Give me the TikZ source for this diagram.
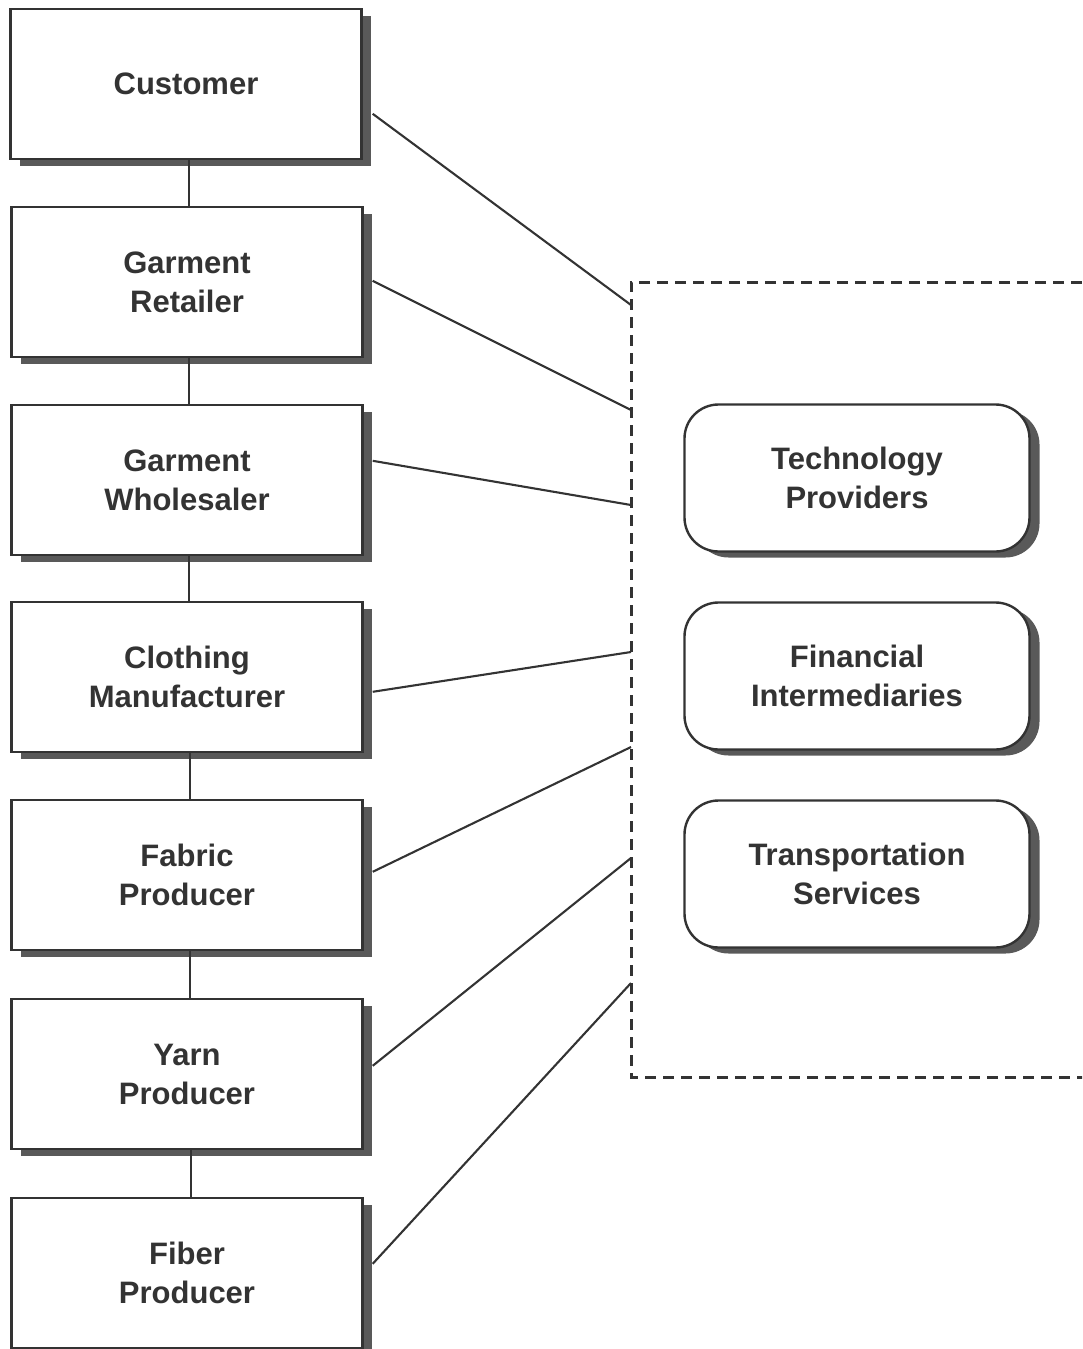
\documentclass[tikz,border=0pt]{standalone}
\usepackage{fontspec}
\setmainfont{Liberation Sans}
\usetikzlibrary{shadows}
\definecolor{ink}{HTML}{333333}
\begin{document}
\begin{tikzpicture}[x=1pt,y=-1pt,
  every node/.style={font=\fontsize{31}{39}\selectfont\bfseries, text=ink, align=center},
  chainbox/.style={draw=ink, line width=2.4pt, fill=white, minimum width=351pt, minimum height=150pt, inner sep=0pt,
    drop shadow={shadow xshift=9pt, shadow yshift=-7pt, fill=black!65, opacity=1}},
  servbox/.style={draw=ink, line width=2.4pt, fill=white, rounded corners=34pt, minimum width=345pt, minimum height=147pt, inner sep=0pt,
    drop shadow={shadow xshift=10pt, shadow yshift=-6pt, fill=black!65, opacity=1}},
  link/.style={draw=ink, line width=2.1pt},
  dashbox/.style={draw=ink, line width=3pt, dash pattern=on 11pt off 7pt}]
\useasboundingbox (0,0) rectangle (1082,1349);
\clip (0,0) rectangle (1082,1349);

% supply chain
\node[chainbox] (cust) at (186,84) {Customer};
\node[chainbox] (ret)  at (187,282) {Garment\\Retailer};
\node[chainbox] (whol) at (187,480) {Garment\\Wholesaler};
\node[chainbox] (cloth) at (187,677) {Clothing\\Manufacturer};
\node[chainbox] (fab)  at (187,875) {Fabric\\Producer};
\node[chainbox] (yarn) at (187,1074) {Yarn\\Producer};
\node[chainbox] (fib)  at (187,1273) {Fiber\\Producer};

\draw[link] ([xshift=3pt]cust.south) -- ([xshift=2pt]ret.north);
\draw[link] ([xshift=2pt]ret.south) -- ([xshift=2pt]whol.north);
\draw[link] ([xshift=2pt]whol.south) -- ([xshift=2pt]cloth.north);
\draw[link] ([xshift=3pt]cloth.south) -- ([xshift=3pt]fab.north);
\draw[link] ([xshift=3pt]fab.south) -- ([xshift=3pt]yarn.north);
\draw[link] ([xshift=4pt]yarn.south) -- ([xshift=4pt]fib.north);

% services region
\draw[dashbox] (1100,282) -- (631,282) -- (631,1077) -- (1100,1077);
\node[servbox] (tech) at (857,478) {Technology\\Providers};
\node[servbox] (fin)  at (857,676) {Financial\\Intermediaries};
\node[servbox] (trans) at (857,874) {Transportation\\Services};

\coordinate (e1) at (631,305);
\coordinate (e2) at (631,410);
\coordinate (e3) at (631,505);
\coordinate (e4) at (631,652);
\coordinate (e5) at (631,747);
\coordinate (e6) at (631,858);
\coordinate (e7) at (631,983);

\draw[link] ([shift={(10,106)}]cust.north east) -- (e1);
\draw[link] ([shift={(9,75)}]ret.north east) -- (e2);
\draw[link] ([shift={(9,57)}]whol.north east) -- (e3);
\draw[link] ([shift={(9,91)}]cloth.north east) -- (e4);
\draw[link] ([shift={(9,73)}]fab.north east) -- (e5);
\draw[link] ([shift={(9,68)}]yarn.north east) -- (e6);
\draw[link] ([shift={(9,67)}]fib.north east) -- (e7);
\end{tikzpicture}
\end{document}
